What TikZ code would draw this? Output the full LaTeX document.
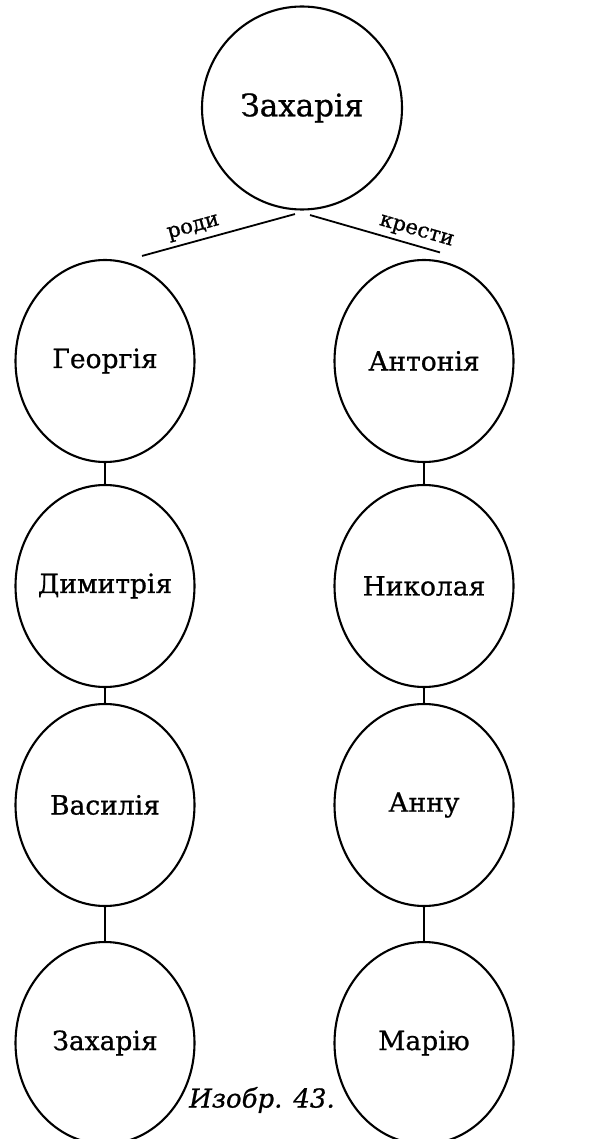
\documentclass[tikz,border=0pt]{standalone}
\usepackage{fontspec}
\setmainfont{DejaVu Serif}
\newfontfamily\heavyserif{DejaVu Serif}[FakeBold=0.8]
\usetikzlibrary{shapes.geometric}
\begin{document}
\begin{tikzpicture}[x=1pt,y=-1pt,
  person/.style={ellipse, draw, line width=2.1pt, minimum width=179pt, minimum height=202pt, inner sep=0pt},
  nametext/.style={font=\heavyserif\fontsize{26.5}{30}\selectfont},
  link/.style={line width=1.1pt},
  branch/.style={line width=1.8pt},
  lab/.style={font=\heavyserif\fontsize{21}{24}\selectfont, sloped, above=1pt}]
\useasboundingbox (0,0) rectangle (597,1139);
\node[person, minimum width=200pt, minimum height=203pt] (top) at (302,108) {};
\node[person] (g1) at (105,361) {};
\node[person] (g2) at (105,586) {};
\node[person] (g3) at (105,805) {};
\node[person] (g4) at (105,1043) {};
\node[person] (a1) at (424,361) {};
\node[person] (a2) at (424,586) {};
\node[person] (a3) at (424,805) {};
\node[person] (a4) at (424,1043) {};
\node[nametext, font=\heavyserif\fontsize{31}{34}\selectfont] (ttop) at (top.center) {Захарія};
\node[nametext] (tg1) at (g1.center) {Георгія};
\node[nametext] (tg2) at (g2.center) {Димитрія};
\node[nametext] (tg3) at (g3.center) {Василія};
\node[nametext] (tg4) at (g4.center) {Захарія};
\node[nametext] (ta1) at (a1.center) {Антонія};
\node[nametext] (ta2) at (a2.center) {Николая};
\node[nametext] (ta3) at (a3.center) {Анну};
\node[nametext] (ta4) at (a4.center) {Марію};
\draw[link] (g1) -- (g2);
\draw[link] (g2) -- (g3);
\draw[link] (g3) -- (g4);
\draw[link] (a1) -- (a2);
\draw[link] (a2) -- (a3);
\draw[link] (a3) -- (a4);
\draw[branch] ([shift={(37,-3)}]g1.north) -- node[lab, pos=0.36] (rodi) {роди} ([shift={(-7,3.5)}]top.south);
\draw[branch] ([shift={(8,4.5)}]top.south) -- node[lab, pos=0.79] (kresti) {крести} ([shift={(16,-6.5)}]a1.north);
\node[font=\heavyserif\fontsize{26}{30}\selectfont\itshape] (cap) at (262,1100) {Изобр. 43.};
\end{tikzpicture}
\end{document}
